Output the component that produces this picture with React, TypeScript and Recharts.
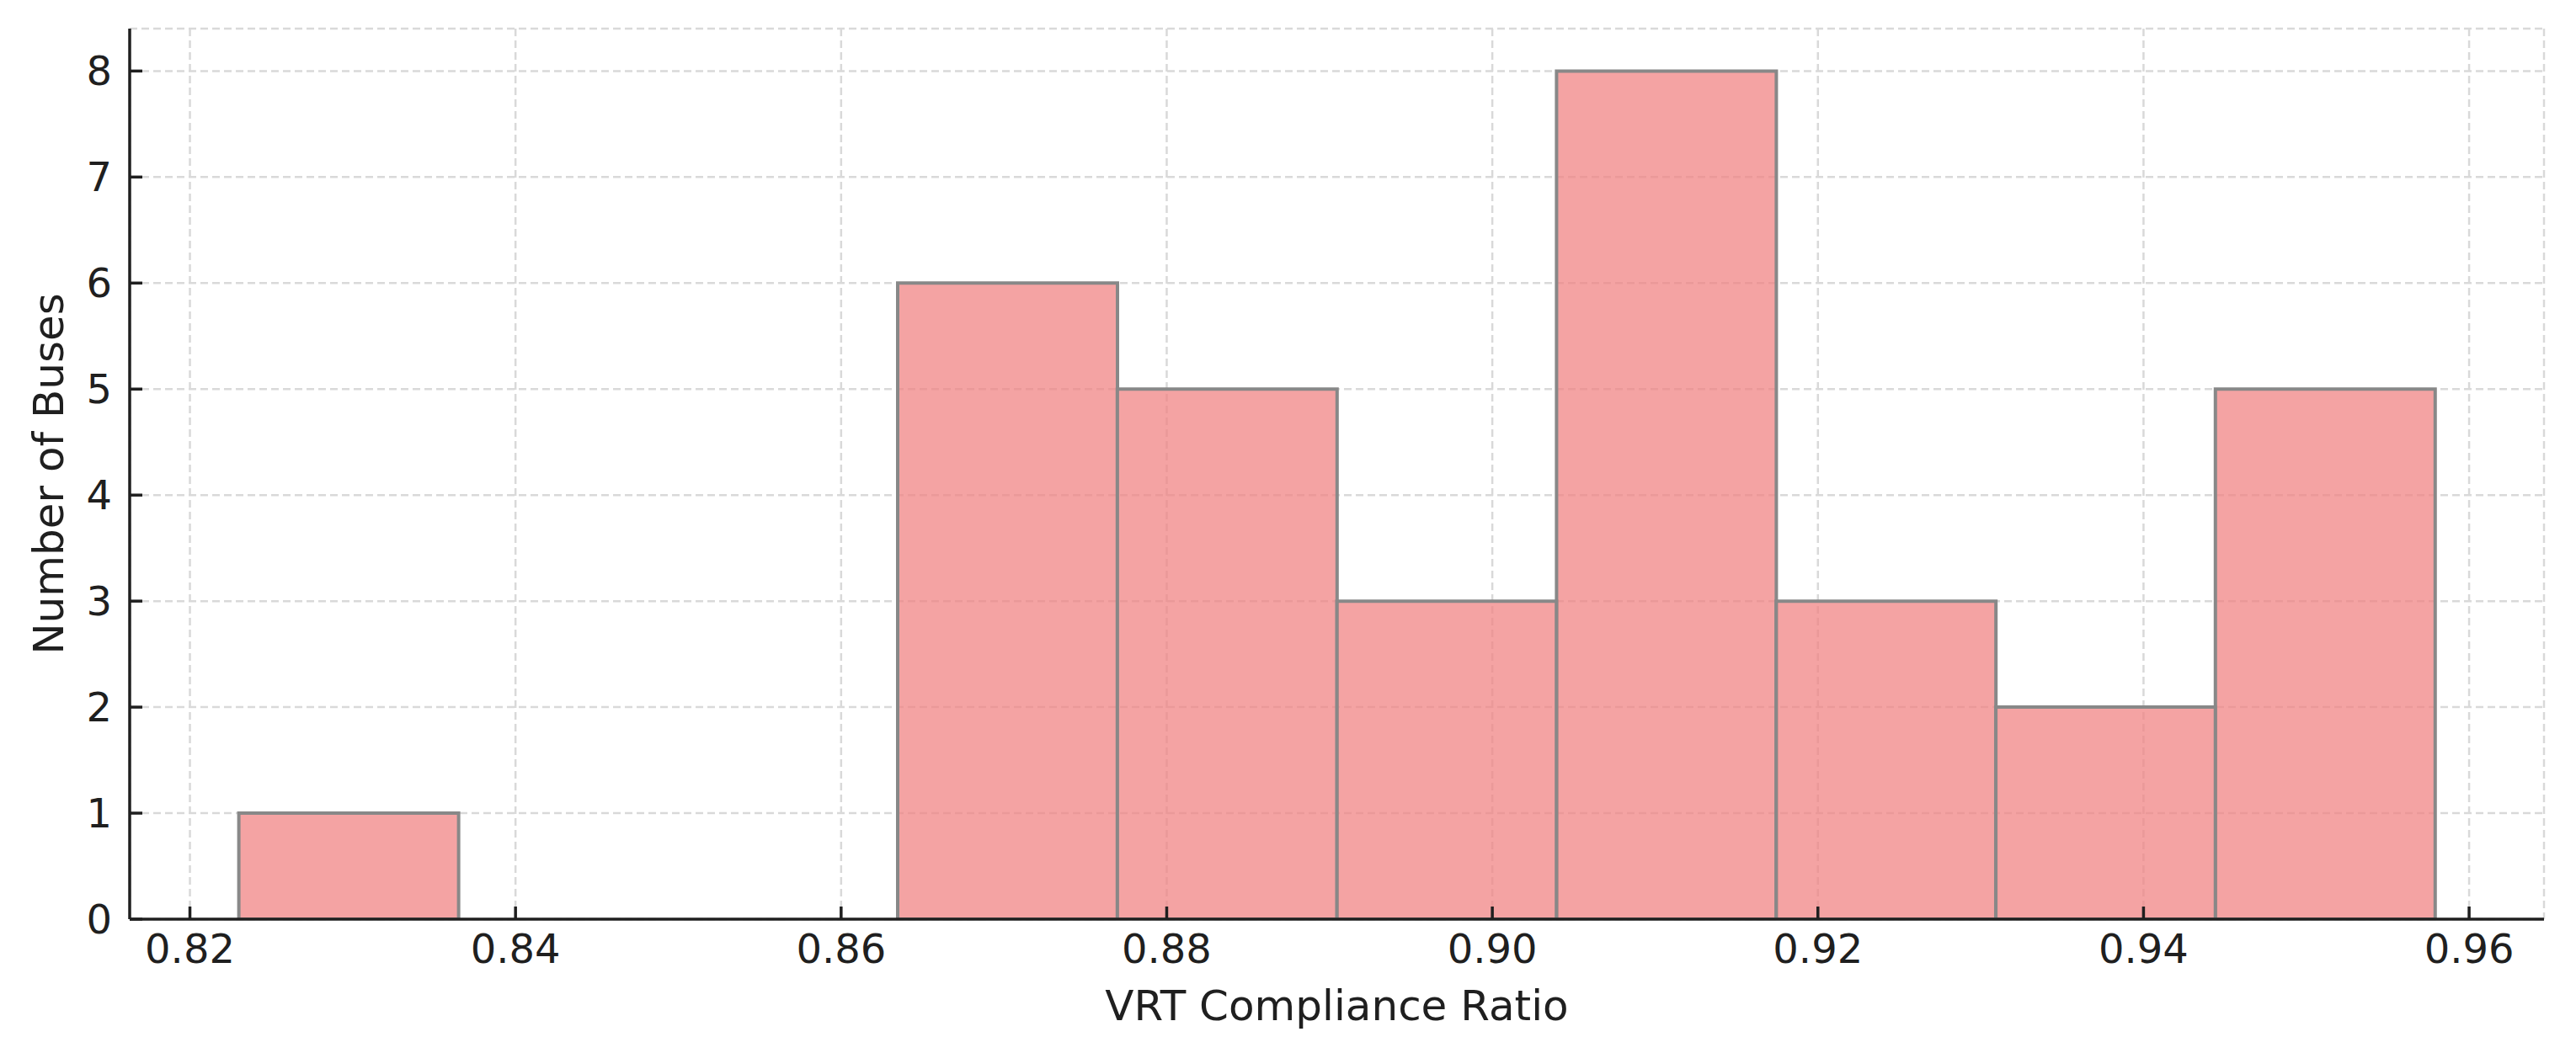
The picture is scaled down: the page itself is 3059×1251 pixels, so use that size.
import { Bar, BarChart, CartesianGrid, XAxis, YAxis } from "recharts";

// histogram bins (centres, equal width ~0.01349)
const binCenters = [0.82975, 0.84324, 0.85673, 0.87022, 0.88371, 0.8972, 0.91069, 0.92418, 0.93767, 0.95116];
const busCounts = [1, 0, 0, 6, 5, 3, 8, 3, 2, 5];

const xTicks = [0.82, 0.84, 0.86, 0.88, 0.9, 0.92, 0.94, 0.96];
const yTicks = [0, 1, 2, 3, 4, 5, 6, 7, 8];

const data = binCenters.map((center, i) => ({ center, count: busCounts[i] }));

const ink = "#1f1f1f";
const font = "'DejaVu Sans', sans-serif";

export default function App() {
  return (
    <div style={{ position: "absolute", left: 0, top: 0, background: "#fff" }}>
      <style>{`body { margin: 0; }`}</style>
      <BarChart
        width={3059}
        height={1251}
        data={data}
        margin={{ top: 34, right: 38, bottom: 0, left: 0 }}
        barCategoryGap={0}
        barGap={0}
        style={{ fontFamily: font }}
      >
        <CartesianGrid stroke="#d9d9d9" strokeWidth={2.5} strokeDasharray="9 5" />
        <XAxis
          type="number"
          dataKey="center"
          domain={[0.8163, 0.9646]}
          allowDataOverflow
          ticks={xTicks}
          interval={0}
          tickFormatter={(v: number) => v.toFixed(2)}
          height={159}
          axisLine={{ stroke: ink, strokeWidth: 3.5 }}
          tickLine={{ stroke: ink, strokeWidth: 3.5 }}
          tickSize={-15}
          tickMargin={33}
          tick={{ fill: ink, fontSize: 48, fontFamily: font }}
          label={{
            content: ({ viewBox }: any) => (
              <text
                x={viewBox.x + viewBox.width / 2}
                y={viewBox.y + 120}
                textAnchor="middle"
                fill={ink}
                fontSize={50}
                fontFamily={font}
              >
                VRT Compliance Ratio
              </text>
            ),
          }}
        />
        <YAxis
          type="number"
          domain={[0, 8.4]}
          allowDataOverflow
          ticks={yTicks}
          interval={0}
          width={154}
          axisLine={{ stroke: ink, strokeWidth: 3.5 }}
          tickLine={{ stroke: ink, strokeWidth: 3.5 }}
          tickSize={-15}
          tickMargin={36}
          tick={{ fill: ink, fontSize: 48, fontFamily: font }}
          label={{
            content: ({ viewBox }: any) => {
              const cx = viewBox.x + 75;
              const cy = viewBox.y + viewBox.height / 2;
              return (
                <text
                  x={cx}
                  y={cy}
                  transform={`rotate(-90, ${cx}, ${cy})`}
                  textAnchor="middle"
                  fill={ink}
                  fontSize={50}
                  fontFamily={font}
                >
                  Number of Buses
                </text>
              );
            },
          }}
        />
        <Bar
          dataKey="count"
          fill="#F08080"
          fillOpacity={0.72}
          stroke="#888888"
          strokeWidth={4}
          isAnimationActive={false}
        />
      </BarChart>
    </div>
  );
}
